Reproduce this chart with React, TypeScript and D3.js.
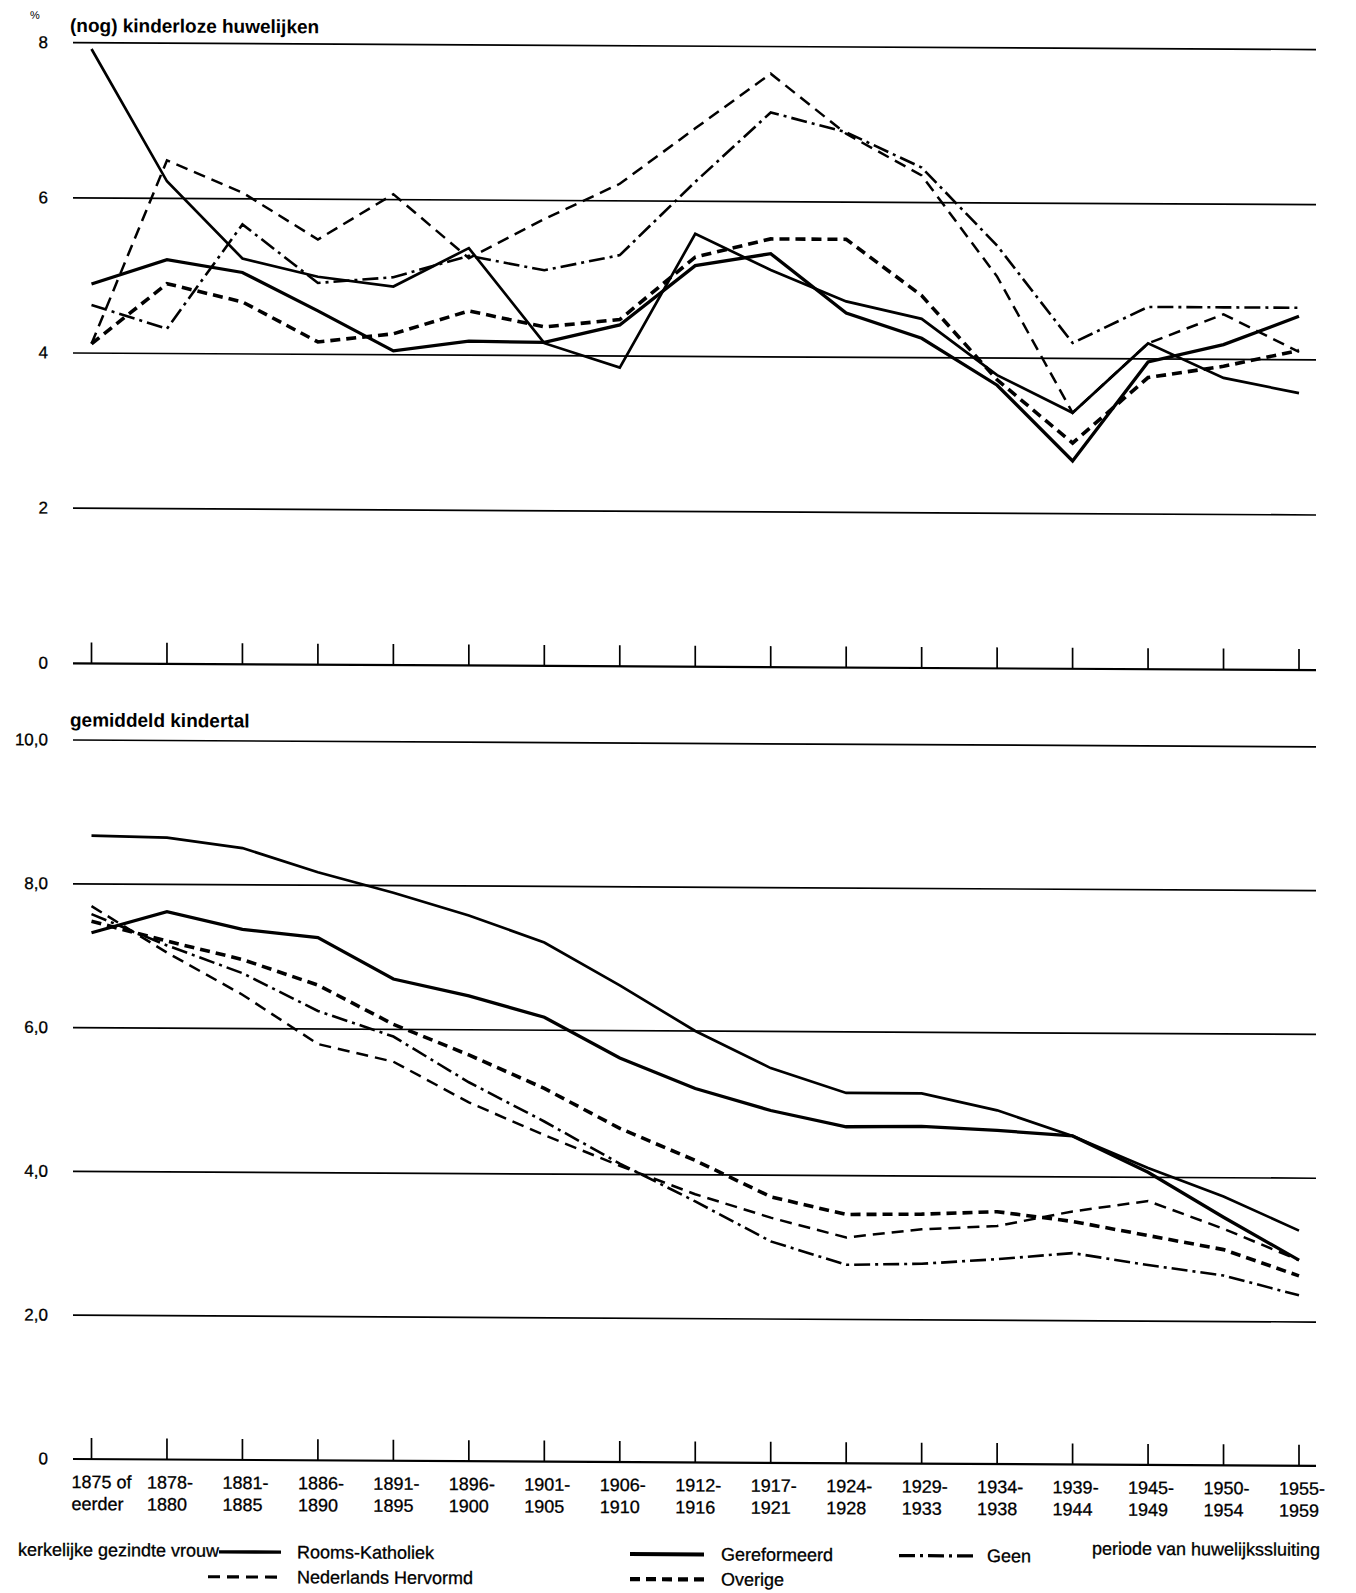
import React from "react";
import * as d3 from "d3";

// ---- data ----
const periodTop = ["1875 of", "1878-", "1881-", "1886-", "1891-", "1896-", "1901-", "1906-", "1912-", "1917-", "1924-", "1929-", "1934-", "1939-", "1945-", "1950-", "1955-"];
const periodBottom = ["eerder", "1880", "1885", "1890", "1895", "1900", "1905", "1910", "1916", "1921", "1928", "1933", "1938", "1944", "1949", "1954", "1959"];
const periods = periodTop.map((p, i) => p + "|" + periodBottom[i]);

// (nog) kinderloze huwelijken, %
const kinderlozeRK = [7.92, 6.22, 5.23, 5.0, 4.88, 5.38, 4.16, 3.85, 5.58, 5.12, 4.72, 4.5, 3.78, 3.3, 4.2, 3.76, 3.57];
const kinderlozeNH = [4.12, 6.49, 6.08, 5.48, 6.07, 5.25, 5.76, 6.22, 6.94, 7.65, 6.88, 6.35, 5.05, 3.3, 4.2, 4.58, 4.1];
const kinderlozeGer = [4.89, 5.21, 5.05, 4.56, 4.05, 4.18, 4.17, 4.4, 5.17, 5.33, 4.57, 4.25, 3.65, 2.68, 3.96, 4.19, 4.56];
const kinderlozeOverige = [4.12, 4.9, 4.67, 4.16, 4.27, 4.57, 4.37, 4.47, 5.28, 5.52, 5.52, 4.8, 3.72, 2.91, 3.76, 3.91, 4.12];
const kinderlozeGeen = [4.62, 4.32, 5.67, 4.92, 5.0, 5.28, 5.1, 5.3, 6.25, 7.15, 6.9, 6.45, 5.45, 4.2, 4.67, 4.67, 4.67];

// gemiddeld kindertal
const kindertalRK = [8.67, 8.65, 8.51, 8.18, 7.9, 7.59, 7.22, 6.63, 6.0, 5.49, 5.15, 5.15, 4.92, 4.57, 4.13, 3.74, 3.27];
const kindertalNH = [7.69, 7.05, 6.47, 5.79, 5.55, 4.99, 4.54, 4.12, 3.73, 3.41, 3.14, 3.26, 3.31, 3.52, 3.67, 3.29, 2.86];
const kindertalGer = [7.32, 7.62, 7.38, 7.27, 6.7, 6.47, 6.18, 5.62, 5.2, 4.9, 4.68, 4.69, 4.64, 4.57, 4.07, 3.45, 2.86];
const kindertalOverige = [7.48, 7.21, 6.96, 6.61, 6.07, 5.65, 5.19, 4.64, 4.2, 3.7, 3.46, 3.47, 3.51, 3.38, 3.19, 3.0, 2.64];
const kindertalGeen = [7.58, 7.15, 6.77, 6.25, 5.9, 5.27, 4.73, 4.15, 3.63, 3.08, 2.76, 2.78, 2.85, 2.94, 2.78, 2.64, 2.37];

const topTickValues = [0, 2, 4, 6, 8];
const topTickLabels = ["0", "2", "4", "6", "8"];
const bottomTickValues = [0, 2, 4, 6, 8, 10];
const bottomTickLabels = ["0", "2,0", "4,0", "6,0", "8,0", "10,0"];

const seriesNames = ["Rooms-Katholiek", "Nederlands Hervormd", "Gereformeerd", "Overige", "Geen"];

// ---- styles ----
const lineStyle: Record<string, { w: number; dash?: string }> = {
  "Rooms-Katholiek": { w: 2.7 },
  "Nederlands Hervormd": { w: 2.5, dash: "12 7" },
  Gereformeerd: { w: 3.3 },
  Overige: { w: 3.6, dash: "10 6" },
  Geen: { w: 2.6, dash: "16 5 3 5" },
};

const W = 1356;
const H = 1593;
const SKEW = 0.0055;
const FONT = "'Liberation Sans', Arial, sans-serif";

export default function App() {
  const x = d3.scalePoint<string>().domain(periods).range([91.5, 1299]);
  const yTop = d3.scaleLinear().domain([0, 8]).range([663.3, 42.7]);
  const yBot = d3.scaleLinear().domain([0, 10]).range([1459, 740]);
  const gridX0 = 73;
  const gridX1 = 1316;

  const topSeries: [string, number[]][] = [
    ["Rooms-Katholiek", kinderlozeRK],
    ["Nederlands Hervormd", kinderlozeNH],
    ["Gereformeerd", kinderlozeGer],
    ["Overige", kinderlozeOverige],
    ["Geen", kinderlozeGeen],
  ];
  const bottomSeries: [string, number[]][] = [
    ["Rooms-Katholiek", kindertalRK],
    ["Nederlands Hervormd", kindertalNH],
    ["Gereformeerd", kindertalGer],
    ["Overige", kindertalOverige],
    ["Geen", kindertalGeen],
  ];

  const mkLine = (y: d3.ScaleLinear<number, number>) =>
    d3
      .line<number>()
      .x((_, i) => x(periods[i]) as number)
      .y((d) => y(d));

  const panel = (
    y: d3.ScaleLinear<number, number>,
    ticks: number[],
    labels: string[],
    series: [string, number[]][],
    key: string
  ) => {
    const lg = mkLine(y);
    return (
      <g key={key}>
        {ticks.map((t, i) => (
          <g key={t}>
            <line x1={gridX0} x2={gridX1} y1={y(t)} y2={y(t)} stroke="#000" strokeWidth={t === 0 ? 2.2 : 1.7} />
            <text x={48} y={y(t)} textAnchor="end" dominantBaseline="central" fontSize={17} fontFamily={FONT} stroke="#000" strokeWidth={0.3}>
              {labels[i]}
            </text>
          </g>
        ))}
        {periods.map((p) => (
          <line key={p} x1={x(p)} x2={x(p)} y1={y(0)} y2={y(0) - 21} stroke="#000" strokeWidth={1.7} />
        ))}
        {series.map(([name, vals]) => (
          <path
            key={name}
            d={lg(vals) || ""}
            fill="none"
            stroke="#000"
            strokeWidth={lineStyle[name].w}
            strokeDasharray={lineStyle[name].dash}
            strokeLinejoin="miter"
          />
        ))}
      </g>
    );
  };

  const legendItems: { name: string; x: number; y: number; lx0: number; lx1: number }[] = [
    { name: seriesNames[0], x: 297, y: 1551, lx0: 219, lx1: 281 },
    { name: seriesNames[1], x: 297, y: 1576, lx0: 208, lx1: 280 },
    { name: seriesNames[2], x: 721, y: 1551, lx0: 630, lx1: 704 },
    { name: seriesNames[3], x: 721, y: 1576, lx0: 630, lx1: 704 },
    { name: seriesNames[4], x: 987, y: 1551, lx0: 899, lx1: 975 },
  ];

  return (
    <svg
      width={W}
      height={H}
      viewBox={`0 0 ${W} ${H}`}
      style={{ position: "absolute", left: 0, top: 0, background: "#fff" }}
    >
      <rect width={W} height={H} fill="#fff" />
      <g transform={`matrix(1 ${SKEW} 0 1 0 ${-SKEW * 75})`} fontFamily={FONT} fill="#000">
        <text x={30} y={15} fontSize={11} dominantBaseline="central">%</text>
        <text x={70} y={25.5} fontSize={19} fontWeight="bold" dominantBaseline="central">
          (nog) kinderloze huwelijken
        </text>
        <text x={70} y={720} fontSize={19} fontWeight="bold" dominantBaseline="central">
          gemiddeld kindertal
        </text>

        {panel(yTop, topTickValues, topTickLabels, topSeries, "top")}
        {panel(yBot, bottomTickValues, bottomTickLabels, bottomSeries, "bottom")}

        <g stroke="#000" strokeWidth={0.3}>
          {periods.map((p, i) => (
            <g key={"lab" + p}>
              <text x={(x(p) as number) - 20} y={1482} fontSize={18} dominantBaseline="central">
                {periodTop[i]}
              </text>
              <text x={(x(p) as number) - 20} y={1504} fontSize={18} dominantBaseline="central">
                {periodBottom[i]}
              </text>
            </g>
          ))}
        </g>

        <text x={18} y={1550} fontSize={18} dominantBaseline="central" stroke="#000" strokeWidth={0.3}>kerkelijke gezindte vrouw</text>
        {legendItems.map((it) => (
          <g key={it.name}>
            <line
              x1={it.lx0}
              x2={it.lx1}
              y1={it.y}
              y2={it.y}
              stroke="#000"
              strokeWidth={lineStyle[it.name].w + 0.6}
              strokeDasharray={lineStyle[it.name].dash}
            />
            <text x={it.x} y={it.y} fontSize={18} dominantBaseline="central" stroke="#000" strokeWidth={0.3}>
              {it.name}
            </text>
          </g>
        ))}
        <text x={1092} y={1543} fontSize={18} dominantBaseline="central" stroke="#000" strokeWidth={0.3}>periode van huwelijkssluiting</text>
      </g>
    </svg>
  );
}
